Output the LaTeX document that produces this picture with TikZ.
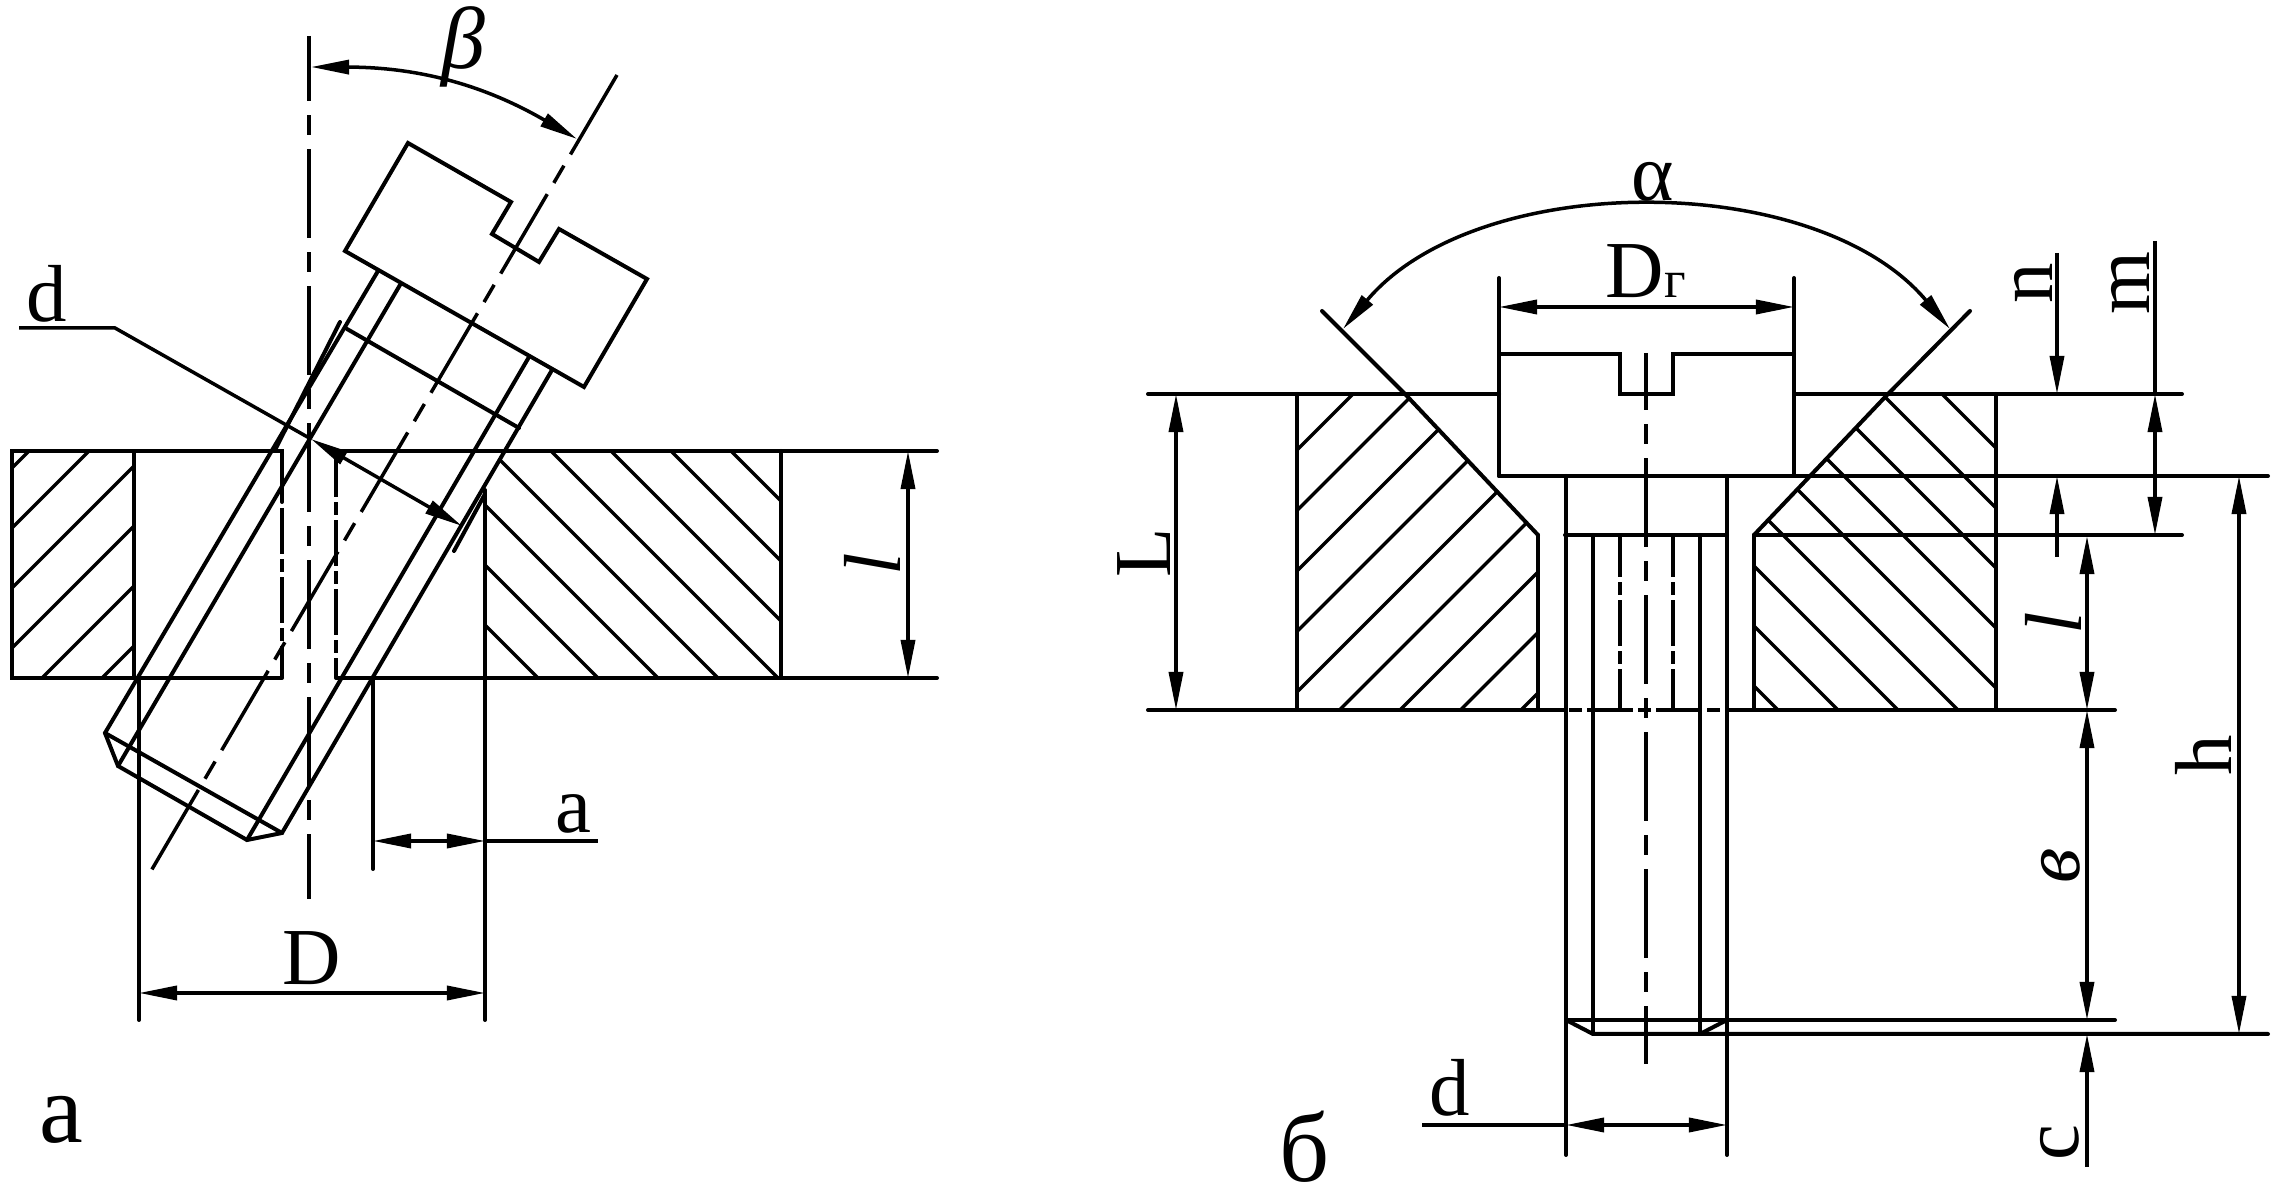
\documentclass[tikz,border=0pt]{standalone}
\usepackage{fontspec}
\setmainfont{Liberation Serif}
\usetikzlibrary{arrows.meta}

\tikzset{
  contour/.style={line width=.04cm,line cap=round},
  hatchline/.style={line width=.033cm},
  axisline/.style={line width=.035cm,dash pattern=on .89cm off .14cm on .2cm off .14cm},
  hiddenline/.style={line width=.035cm,dash pattern=on .46cm off .05cm on .13cm off .05cm},
  dimline/.style={line width=.035cm,>={Triangle[length=.38cm,width=.14cm]}},
  lab/.style={inner sep=0pt,font=\fontsize{23}{25}\selectfont},
  panel/.style={inner sep=0pt,font=\fontsize{28}{30}\selectfont}
}

\begin{document}
\begin{tikzpicture}[x=.01cm,y=-.01cm]
\useasboundingbox (0,0) rectangle (2274,1204);

% Plate a
\draw[contour] (12,451) rectangle (134,678);
\draw[contour] (134,451) -- (282,451) -- (282,502);
\draw[contour] (134,678) -- (282,678);
\draw[hiddenline] (282,508) -- (282,678);
\draw[contour] (336,451) -- (937,451);
\draw[hiddenline] (336,451) -- (336,678);
\draw[contour] (336,678) -- (937,678);
\draw[contour] (781,451) -- (781,678);
\draw[contour] (485,490) -- (485,1020);
\draw[contour] (139,678) -- (139,1020);
\draw[contour] (373,678) -- (373,869);
\begin{scope}
\clip (12,451) rectangle (134,678);
\foreach \c in {480,540,...,780} \draw[hatchline] (\c,0) -- (\c-1200,1200);
\end{scope}
\begin{scope}
\clip (504,451) -- (781,451) -- (781,678) -- (485,678) -- (485,484) -- cycle;
\foreach \c in {-280,-220,...,140} \draw[hatchline] (0,\c) -- (1200,1200+\c);
\end{scope}

% Screw a
\draw[contour] (408,143) -- (511,202) -- (492,234) -- (539,262) -- (559,229) -- (647,279) -- (584,387) -- (345,251) -- cycle;
\draw[contour] (378,271) -- (105,733) -- (118,766) -- (247,840) -- (282,833) -- (552,370);
\draw[contour] (400,285) -- (118,766);
\draw[contour] (529,357) -- (247,840);
\draw[contour] (105,733) -- (282,833);
\draw[contour] (347,329) -- (519,428);
\draw[contour] (340,322) -- (275,450);
\draw[contour] (485,494) -- (454,551);

% Axes a
\draw[axisline,dash phase=.24cm] (309,36) -- (309,899);
\draw[axisline,dash pattern=on .92cm off .13cm on .2cm off .13cm] (617,75) -- (151,871);

% Dimensions a
\coordinate (betaL) at (311,67);
\coordinate (betaR) at (577,139);
\draw[dimline,<->] (betaL) to[bend left=15] (betaR);
\node[lab,font=\fontsize{25}{27}\selectfont\itshape] (beta) at (463,47) {β};

\coordinate (dA) at (19,328);
\coordinate (dB) at (115,328);
\coordinate (dC) at (311,439);
\coordinate (dD) at (462,526);
\draw[dimline] (dA) -- (dB) -- (dC);
\draw[dimline,<->] (dC) -- (dD);
\node[lab,anchor=base] (dlabA) at (47,322) {d};

\coordinate (aL) at (373,841);
\coordinate (aR) at (485,841);
\coordinate (aE) at (598,841);
\draw[dimline,<->] (aL) -- (aR);
\draw[dimline] (aR) -- (aE);
\node[lab,anchor=base] (alab) at (573,833) {a};

\coordinate (DL) at (139,993);
\coordinate (DR) at (485,993);
\draw[dimline,<->] (DL) -- (DR);
\node[lab,anchor=base] (Dlab) at (312,985) {D};

\coordinate (lT) at (908,451);
\coordinate (lB) at (908,678);
\draw[dimline,<->] (lT) -- (lB);
\node[lab,font=\fontsize{23}{25}\selectfont\itshape,rotate=90] (llabA) at (872,564) {l};

\node[panel,anchor=base] (panelA) at (61,1143) {а};

% Plate b
\draw[contour] (1148,394) -- (1499,394);
\draw[contour] (1794,394) -- (2182,394);
\draw[contour] (1148,710) -- (1565,710);
\draw[contour] (1727,710) -- (2115,710);
\draw[hiddenline,dash phase=.47cm] (1565,710) -- (1727,710);
\draw[contour] (1297,394) -- (1297,710);
\draw[contour] (1996,394) -- (1996,710);
\draw[contour] (1538,535) -- (1538,710);
\draw[contour] (1754,535) -- (1754,710);
\draw[contour] (1322,311) -- (1405,394) -- (1538,535);
\draw[contour] (1970,311) -- (1888,394) -- (1754,535);
\begin{scope}
\clip (1297,394) -- (1405,394) -- (1538,535) -- (1538,710) -- (1297,710) -- cycle;
\foreach \c in {1747,1807.5,...,2232} \draw[hatchline] (\c,0) -- (\c-1200,1200);
\end{scope}
\begin{scope}
\clip (1996,394) -- (1888,394) -- (1754,535) -- (1754,710) -- (1996,710) -- cycle;
\foreach \c in {-1548,-1488,...,-1068} \draw[hatchline] (1000,1000+\c) -- (2300,2300+\c);
\end{scope}

% Screw b
\draw[contour] (1499,278) -- (1499,476);
\draw[contour] (1794,278) -- (1794,476);
\draw[contour] (1499,354) -- (1620,354) -- (1620,394) -- (1673,394) -- (1673,354) -- (1794,354);
\draw[contour] (1499,476) -- (2268,476);
\draw[contour] (1565,535) -- (1727,535);
\draw[contour] (1754,535) -- (2182,535);
\draw[contour] (1566,476) -- (1566,1155);
\draw[contour] (1727,476) -- (1727,1155);
\draw[contour] (1593,535) -- (1593,1034);
\draw[contour] (1700,535) -- (1700,1034);
\draw[hiddenline,dash phase=.04cm] (1620,535) -- (1620,710);
\draw[hiddenline,dash phase=.04cm] (1673,535) -- (1673,710);
\draw[contour] (1566,1020) -- (2115,1020);
\draw[contour] (1566,1020) -- (1593,1034) -- (2268,1034);
\draw[contour] (1727,1020) -- (1700,1034);
\draw[axisline,dash phase=.32cm] (1646,353) -- (1646,1064);

% Dimensions b
\coordinate (alphaL) at (1343,329);
\coordinate (alphaR) at (1950,329);
\draw[dimline,<->] (alphaL) to[out=50,in=130,looseness=.88] (alphaR);
\node[lab,anchor=base] (alpha) at (1653,201) {α};

\coordinate (DgL) at (1499,307);
\coordinate (DgR) at (1794,307);
\draw[dimline,<->] (DgL) -- (DgR);
\node[lab,anchor=base] (Dglab) at (1646,298) {D{\fontsize{15}{16}\selectfont г}};

\coordinate (LT) at (1176,394);
\coordinate (LB) at (1176,710);
\draw[dimline,<->] (LT) -- (LB);
\node[lab,rotate=90] (Llab) at (1144,553) {L};

\coordinate (nA) at (2057,253);
\coordinate (nB) at (2057,394);
\coordinate (nC) at (2057,557);
\coordinate (nD) at (2057,476);
\draw[dimline,->] (nA) -- (nB);
\draw[dimline,->] (nC) -- (nD);
\node[lab,rotate=90] (nlab) at (2033,283) {n};

\coordinate (mA) at (2155,241);
\coordinate (mB) at (2155,394);
\coordinate (mC) at (2155,535);
\draw[dimline] (mA) -- (mB);
\draw[dimline,<->] (mB) -- (mC);
\node[lab,rotate=90] (mlab) at (2130,283) {m};

\coordinate (lbT) at (2087,536);
\coordinate (lbB) at (2087,710);
\coordinate (vB) at (2087,1020);
\coordinate (cA) at (2087,1167);
\coordinate (cB) at (2087,1034);
\draw[dimline,<->] (lbT) -- (lbB);
\draw[dimline,<->] (lbB) -- (vB);
\draw[dimline,->] (cA) -- (cB);
\node[lab,font=\fontsize{23}{25}\selectfont\itshape,rotate=90] (llabB) at (2053,623) {l};
\node[lab,font=\fontsize{23}{25}\selectfont\itshape,rotate=90] (vlab) at (2061,866) {в};
\node[lab,rotate=90] (clab) at (2060,1143) {c};

\coordinate (hT) at (2239,476);
\coordinate (hB) at (2239,1034);
\draw[dimline,<->] (hT) -- (hB);
\node[lab,rotate=90] (hlab) at (2203,755) {h};

\coordinate (dbA) at (1422,1125);
\coordinate (dbL) at (1566,1125);
\coordinate (dbR) at (1727,1125);
\draw[dimline] (dbA) -- (dbL);
\draw[dimline,<->] (dbL) -- (dbR);
\node[lab,anchor=base] (dlabB) at (1450,1116) {d};

\node[panel,anchor=base] (panelB) at (1305,1182) {б};
\end{tikzpicture}
\end{document}
